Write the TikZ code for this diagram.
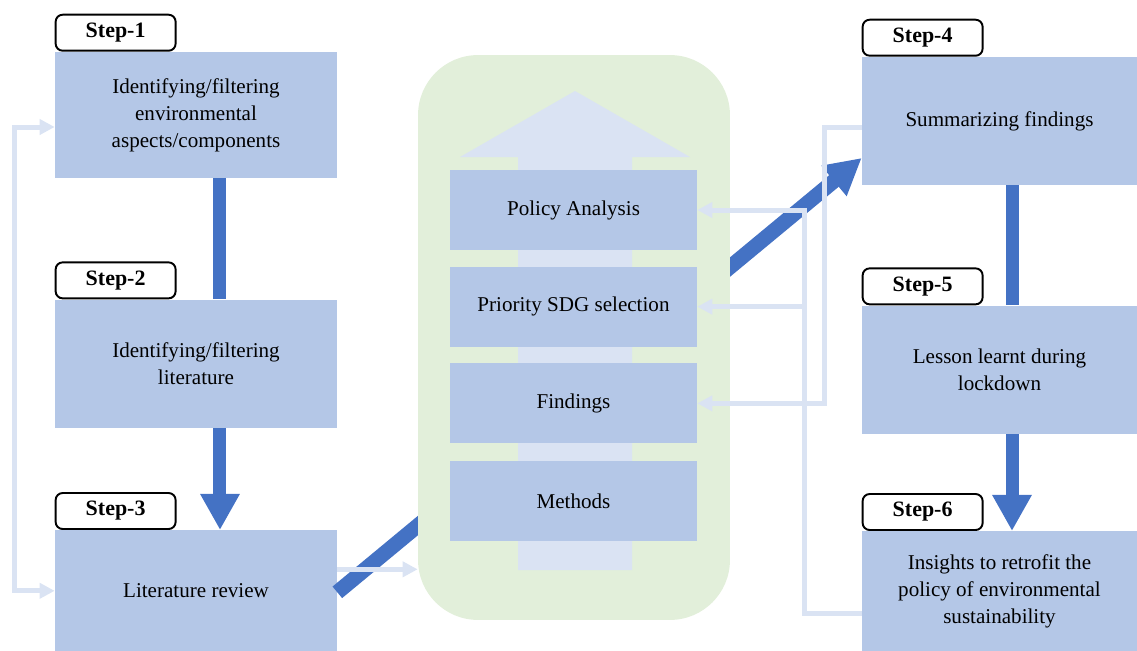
\documentclass[tikz,border=0pt]{standalone}
\usepackage{fontspec}
\setmainfont{Liberation Serif}
\usepackage{xcolor}
\usepackage{tikz}
\usetikzlibrary{positioning, arrows.meta, calc}

\definecolor{boxblue}{HTML}{B4C7E7}
\definecolor{paleblue}{HTML}{DAE3F3}
\definecolor{darkblue}{HTML}{4472C4}
\definecolor{palegreen}{HTML}{E2EFDA}

\begin{document}
\begin{tikzpicture}[
        x=0.02cm, y=-0.02cm,
        font=\fontsize{12}{15.4}\selectfont,
        stage/.style={rectangle, fill=boxblue, minimum width=5.64cm, minimum height=2.56cm, align=center, inner sep=0pt},
        part/.style={rectangle, fill=boxblue, minimum width=4.94cm, minimum height=1.6cm, inner sep=0pt},
        steplabel/.style={rectangle, rounded corners=4pt, draw, line width=1.1pt, fill=white, minimum width=2.4cm, minimum height=0.72cm, inner sep=0pt, font=\fontsize{12.5}{15}\selectfont\bfseries},
        panel/.style={rectangle, rounded corners=1.2cm, fill=palegreen, minimum width=6.24cm, minimum height=11.3cm},
        flow/.style={line width=0.26cm, darkblue},
        flowhead/.style={flow, -{Triangle[width=0.74cm, length=0.72cm]}},
        feedback/.style={line width=0.1cm, paleblue, -{Triangle[width=0.3cm, length=0.3cm]}}
    ]
        \useasboundingbox (0,0) rectangle (1137,650);

        % Left column
        \node[stage, minimum height=2.52cm] (box1) at (196,115) {Identifying/filtering\\environmental\\aspects/components};
        \node[stage, below=2.42cm of box1] (box2) {Identifying/filtering\\literature};
        \node[stage, minimum height=2.42cm, below=2.04cm of box2] (box3) {Literature review};

        % Right column
        \node[stage, minimum width=5.5cm] (box4) at (999.5,121) {Summarizing findings};
        \node[stage, minimum width=5.5cm, below=2.4cm of box4] (box5) {Lesson learnt during\\lockdown};
        \node[stage, minimum width=5.5cm, minimum height=2.4cm, below=1.94cm of box5] (box6) {Insights to retrofit the\\policy of environmental\\sustainability};

        % Main flow, passes behind the panel
        \draw[flowhead, line width=0.3cm] ([yshift=-0.03cm]box3.east) -- ([yshift=-0.74cm]box4.west);

        % Central panel with rising arrow
        \node[panel] (panel) at (574,337.5) {};
        \fill[paleblue] (518,570) -- (632,570) -- (632,157) -- (690,157) -- (575,91) -- (460,157) -- (518,157) -- cycle;

        \node[part] (pa) at (573.5,210) {Policy Analysis};
        \node[part, below=0.32cm of pa] (psdg) {Priority SDG selection};
        \node[part, below=0.32cm of psdg] (find) {Findings};
        \node[part, below=0.34cm of find] (meth) {Methods};

        % Step labels
        \node[steplabel, above right=0pt of box1.north west] (step1) {Step-1};
        \node[steplabel, above right=0pt of box2.north west] (step2) {Step-2};
        \node[steplabel, above right=0pt of box3.north west] (step3) {Step-3};
        \node[steplabel, above right=0pt of box4.north west] (step4) {Step-4};
        \node[steplabel, above right=0pt of box5.north west] (step5) {Step-5};
        \node[steplabel, above right=0pt of box6.north west] (step6) {Step-6};

        % Vertical flow
        \draw[flow] ([xshift=0.48cm]box1.south) -- ([xshift=0.48cm]box2.north);
        \draw[flowhead] ([xshift=0.48cm]box2.south) -- ([xshift=0.48cm]box3.north);
        \draw[flow] ([xshift=0.25cm]box4.south) -- ([xshift=0.25cm]box5.north);
        \draw[flowhead] ([xshift=0.25cm]box5.south) -- ([xshift=0.25cm]box6.north);

        % Feedback links
        \draw[feedback, {Triangle[width=0.3cm, length=0.3cm]}-{Triangle[width=0.3cm, length=0.3cm]}] ([yshift=-0.24cm]box1.west) -- ++(-0.8cm,0) |- (box3.west);
        \draw[feedback] ([yshift=0.43cm]box3.east) coordinate (lr) -- (lr -| panel.west);
        \draw[feedback] ([yshift=-0.12cm]box4.west) -- ++(-0.74cm,0) |- (find.east);
        \draw[feedback] ([yshift=-0.44cm]box6.west) -- ++(-1.14cm,0) coordinate (rbus) |- (pa.east);
        \draw[feedback] (rbus |- psdg.east) -- (psdg.east);

    \end{tikzpicture}
\end{document}
